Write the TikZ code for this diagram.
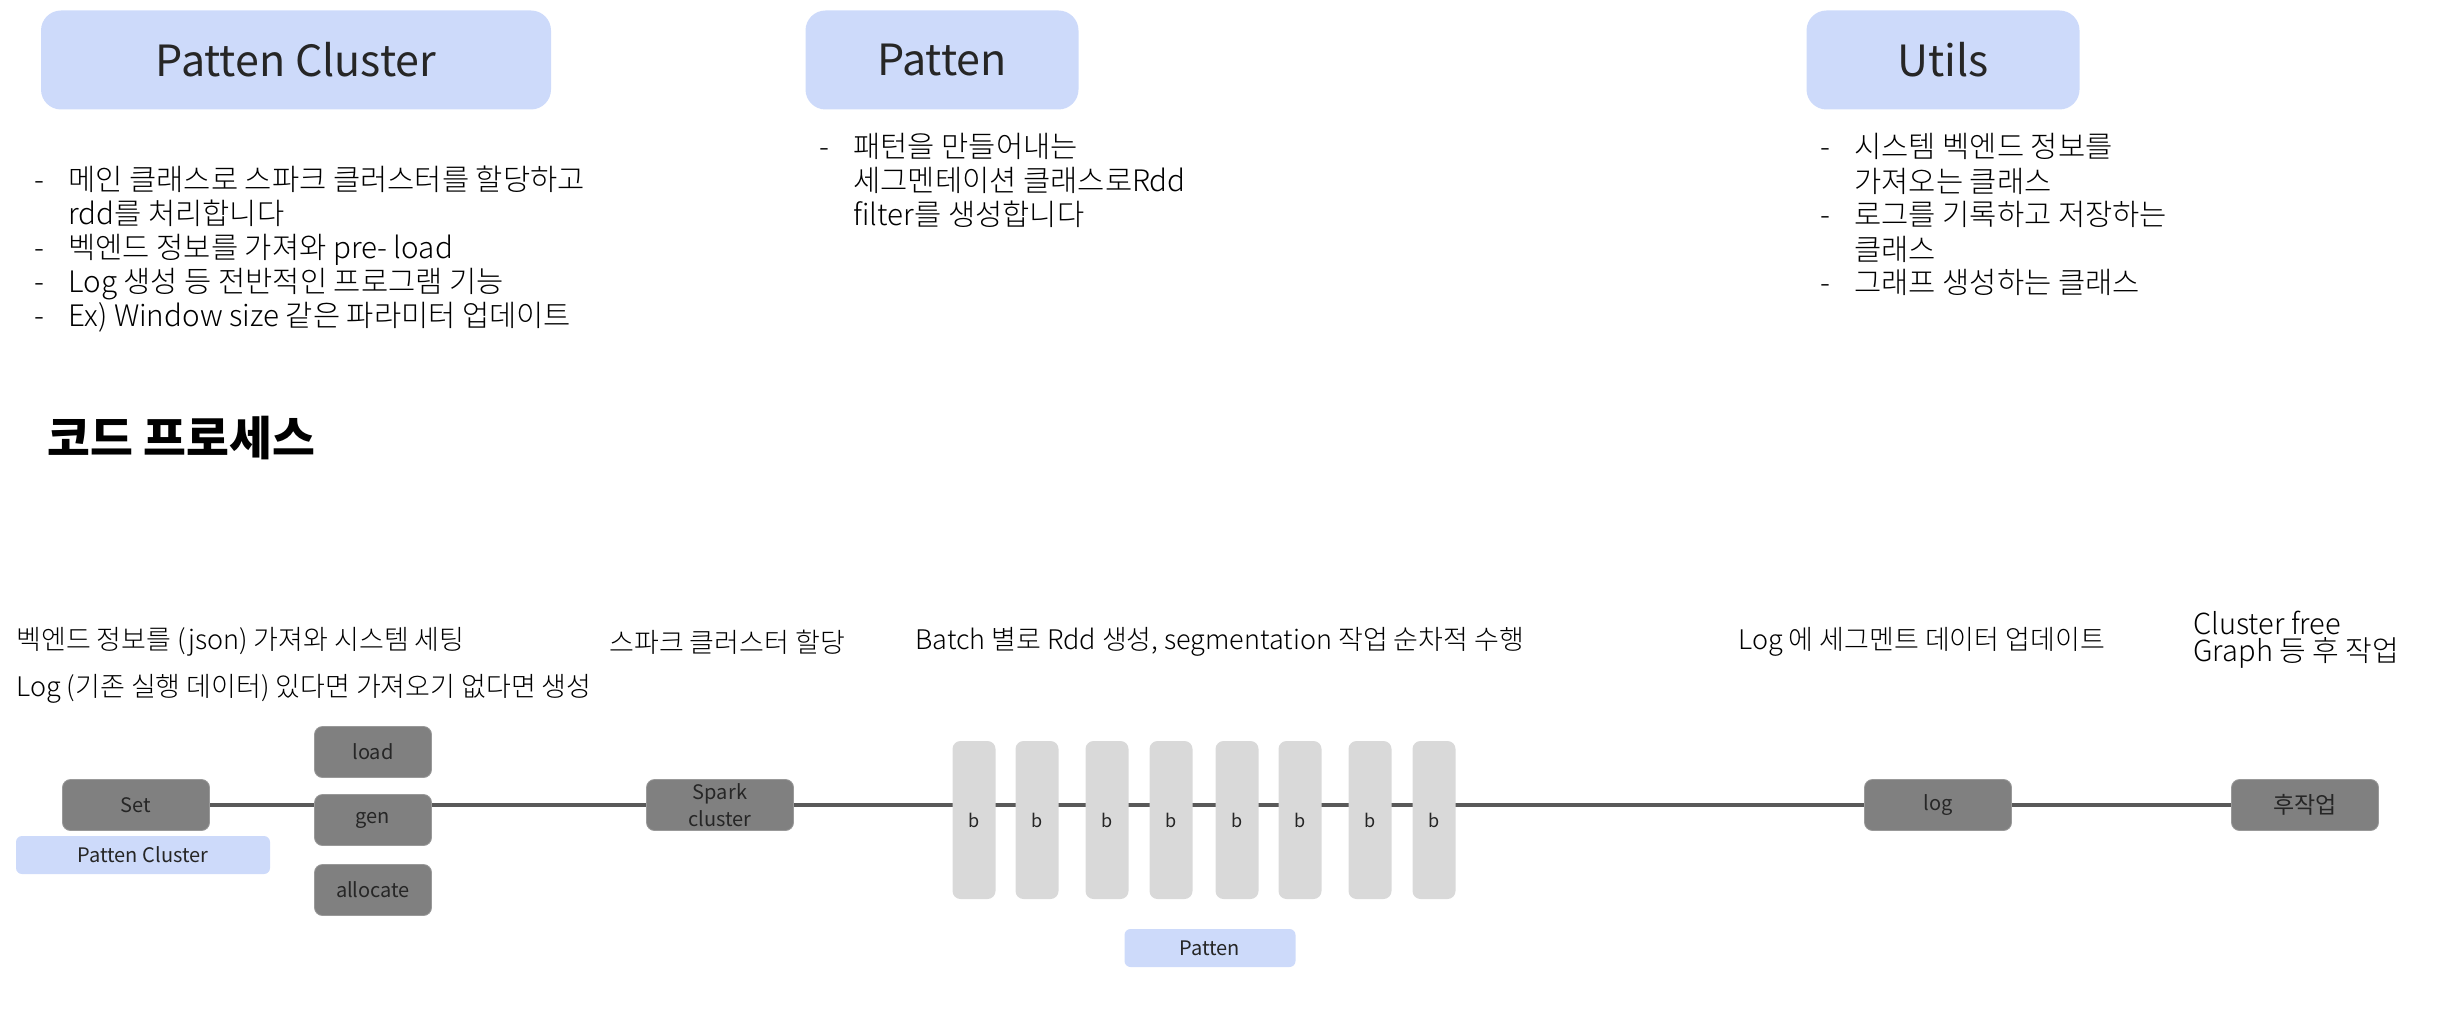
\documentclass[tikz,border=0pt]{standalone}
\usepackage{fontspec}
\setmainfont{Noto Sans CJK KR}
\newfontfamily\thinkr{Noto Sans CJK KR Light}
\usetikzlibrary{backgrounds}

\definecolor{paleblue}{RGB}{205,218,250}
\definecolor{boxgray}{RGB}{128,128,128}
\definecolor{batchgray}{RGB}{217,217,217}
\definecolor{flowgray}{RGB}{89,89,89}
\definecolor{labeldark}{RGB}{38,38,38}

\newcommand{\bdash}{\makebox[17pt][l]{-}}
\newcommand{\bgap}{\hspace*{17pt}}

\tikzset{
  classbox/.style={fill=paleblue, rounded corners=10pt, minimum height=49.5pt,
    text=labeldark, font=\fontsize{21.5}{25}\selectfont},
  stepbox/.style={fill=boxgray, draw=boxgray!80!white, line width=0.4pt,
    rounded corners=4pt, minimum width=73.5pt, minimum height=25.5pt,
    inner sep=0pt, text=labeldark, font=\fontsize{10}{13.5}\selectfont, align=center},
  batch/.style={fill=batchgray, rounded corners=4pt, minimum width=21.5pt,
    minimum height=79pt, inner sep=0pt, text=labeldark, font=\fontsize{9}{11}\selectfont},
  owner/.style={fill=paleblue, rounded corners=3pt, minimum height=19pt,
    inner sep=0pt, text=labeldark, font=\fontsize{10}{12}\selectfont},
  bullets/.style={anchor=base west, inner sep=0pt, align=left,
    font=\thinkr\fontsize{14.8}{17}\selectfont},
  note/.style={anchor=west, inner sep=0pt, font=\thinkr\fontsize{13.5}{13.5}\selectfont},
  flow/.style={draw=flowgray, line width=2.2pt}
}

\begin{document}
\begin{tikzpicture}[x=0.5pt, y=-0.5pt]
  \useasboundingbox (0,0) rectangle (2460,1010);

  % class headers
  \node[classbox, minimum width=255pt] (hcluster) at (296,60) {Patten Cluster};
  \node[classbox, minimum width=136.5pt] (hpatten) at (942,60) {Patten};
  \node[classbox, minimum width=136.5pt] (hutils) at (1943,60) {Utils};

  % base sits on the last line
  \node[bullets] (dcluster) at (34,327) {%
    \bdash 메인 클래스로 스파크 클러스터를 할당하고\\
    \bgap rdd를 처리합니다\\
    \bdash 벡엔드 정보를 가져와 pre- load\\
    \bdash Log 생성 등 전반적인 프로그램 기능\\
    \bdash Ex) Window size 같은 파라미터 업데이트};
  \node[bullets] (dpatten) at (819,226) {%
    \bdash 패턴을 만들어내는\\
    \bgap 세그멘테이션 클래스로Rdd\\
    \bgap filter를 생성합니다};
  \node[bullets] (dutils) at (1820,294) {%
    \bdash 시스템 벡엔드 정보를\\
    \bgap 가져오는 클래스\\
    \bdash 로그를 기록하고 저장하는\\
    \bgap 클래스\\
    \bdash 그래프 생성하는 클래스};

  \node[anchor=west, inner sep=0pt, font=\fontsize{23.3}{27}\selectfont\bfseries]
    (process) at (47,438) {코드 프로세스};

  % step notes
  \node[note] (nset) at (16,642) {벡엔드 정보를 (json) 가져와 시스템 세팅};
  \node[note] (nlog) at (16,689) {Log (기존 실행 데이터) 있다면 가져오기 없다면 생성};
  \node[note] (nspark) at (609,642) {스파크 클러스터 할당};
  \node[note] (nbatch) at (915,642) {Batch 별로 Rdd 생성, segmentation 작업 순차적 수행};
  \node[note] (nseg) at (1738,642) {Log 에 세그멘트 데이터 업데이트};
  \node[note, align=left, font=\thinkr\fontsize{14.5}{13.5}\selectfont]
    (npost) at (2193,640) {Cluster free\\Graph 등 후 작업};

  % process line
  \node[stepbox] (set) at (136,805) {Set};
  \node[owner, minimum width=127pt] (ocluster) at (143,855) {Patten Cluster};
  \node[stepbox, minimum width=58.5pt] (load) at (373,752) {load};
  \node[stepbox, minimum width=58.5pt] (gen) at (373,820) {gen};
  \node[stepbox, minimum width=58.5pt] (alloc) at (373,890) {allocate};
  \node[stepbox] (spark) at (720,805) {Spark\\cluster};
  \foreach \x [count=\i] in {974,1037,1107,1171,1237,1300,1370,1434}
    \node[batch] (b\i) at (\x,820) {b};
  \node[owner, minimum width=85.5pt] (opatten) at (1210,948) {Patten};
  \node[stepbox] (log) at (1938,805) {log};
  \node[stepbox, font=\fontsize{11.5}{13.5}\selectfont] (post) at (2305,805) {후작업};

  \begin{scope}[on background layer]
    \draw[flow] (set.east) -- (spark.west);
    \draw[flow] (spark.east) -- (log.west);
    \draw[flow] (log.east) -- (post.west);
  \end{scope}
\end{tikzpicture}
\end{document}
